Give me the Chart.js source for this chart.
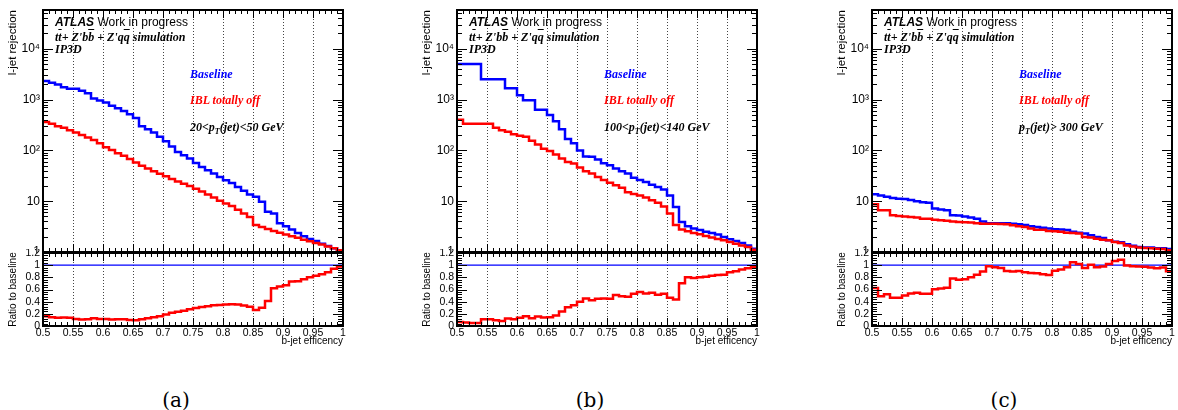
<!DOCTYPE html>
<html>
<head>
<meta charset="utf-8">
<script src="https://cdn.jsdelivr.net/npm/chart.js@4.4.0/dist/chart.umd.min.js"></script>
<style>
  html, body { margin: 0; padding: 0; background: #fff; }
  #page { position: relative; width: 1178px; height: 410px; overflow: hidden; }
  canvas { position: absolute; }
  .txt { position: absolute; white-space: nowrap; line-height: 1; color: #000; }
  .atlas { font: 12px "Liberation Sans", Arial, sans-serif; }
  .atlas b { font-style: italic; }
  .serif { font: italic bold 12px "Liberation Serif", "Times New Roman", serif; }
  .ol { text-decoration: overline; }
  .serif sub { font-size: 8px; vertical-align: -3px; }
  .cap { font: 20px "DejaVu Serif", "Liberation Serif", serif; width: 50px; text-align: center; }
</style>
</head>
<body>
<div id="page"></div>
<script>
// b-jet efficiency bin edges (0.01 wide bins)
const effEdges = [0.50, 0.51, 0.52, 0.53, 0.54, 0.55, 0.56, 0.57, 0.58, 0.59,
                  0.60, 0.61, 0.62, 0.63, 0.64, 0.65, 0.66, 0.67, 0.68, 0.69,
                  0.70, 0.71, 0.72, 0.73, 0.74, 0.75, 0.76, 0.77, 0.78, 0.79,
                  0.80, 0.81, 0.82, 0.83, 0.84, 0.85, 0.86, 0.87, 0.88, 0.89,
                  0.90, 0.91, 0.92, 0.93, 0.94, 0.95, 0.96, 0.97, 0.98, 0.99, 1.00];
const effTicks = [0.5, 0.55, 0.6, 0.65, 0.7, 0.75, 0.8, 0.85, 0.9, 0.95, 1];
const rejTicks = [1, 10, 100, 1000, 10000];
const rejTickLabels = ['1', '10', '10²', '10³', '10⁴'];
const ratioTicks = [0, 0.2, 0.4, 0.6, 0.8, 1, 1.2];

// (a) 20 < pT < 50 GeV
const baselineA = [2320, 2140, 1980, 1740, 1640, 1640, 1490, 1330, 1050, 957,
                   877, 757, 673, 598, 517, 433, 300, 260, 224, 185,
                   151, 119, 93, 80, 69, 56.5, 47, 40.6, 34.9, 30,
                   25.8, 22.9, 19.1, 16, 13.5, 12.2, 9.7, 6.2, 5.7, 3.7,
                   3.2, 2.76, 2.37, 2.04, 1.81, 1.65, 1.46, 1.31, 1.18, 1.08];
const iblOffA = [363, 333, 300, 279, 249, 224, 202, 180, 160, 138,
                 115, 102, 88, 78, 68, 58, 50, 44, 39, 34.5,
                 31, 27.5, 24.5, 22, 19.8, 17.5, 15.5, 13.5, 11.8, 10.2,
                 9, 8, 6.8, 5.7, 4.9, 3.4, 3.1, 2.85, 2.6, 2.4,
                 2.2, 2.05, 1.9, 1.75, 1.62, 1.5, 1.4, 1.28, 1.18, 1.08];
const ratioA = [0.16, 0.145, 0.134, 0.14, 0.134, 0.117, 0.106, 0.11, 0.128, 0.117,
                0.117, 0.106, 0.11, 0.11, 0.1, 0.095, 0.11, 0.128, 0.145, 0.16,
                0.19, 0.218, 0.235, 0.25, 0.274, 0.296, 0.313, 0.324, 0.34, 0.346,
                0.352, 0.357, 0.352, 0.335, 0.318, 0.263, 0.30, 0.413, 0.62, 0.648,
                0.67, 0.73, 0.737, 0.77, 0.8, 0.827, 0.85, 0.883, 0.94, 0.98];

// (b) 100 < pT < 140 GeV
const baselineB = [5000, 5000, 5000, 5000, 2500, 2500, 2500, 2500, 1670, 1670,
                   1220, 970, 970, 630, 630, 500, 374, 260, 167, 138,
                   100, 76, 75, 66, 56, 51, 44, 39, 35, 29,
                   26, 24, 21, 19, 17, 13, 7.7, 3.9, 3.2, 2.9,
                   2.7, 2.5, 2.37, 2.2, 1.98, 1.78, 1.65, 1.5, 1.35, 1.16];
const iblOffB = [400, 333, 333, 333, 333, 333, 280, 250, 234, 208,
                 194, 185, 155, 130, 108, 97, 83, 69, 59, 55,
                 46, 39, 35, 30, 26, 23, 20.5, 18.3, 15, 13.9,
                 13, 11.8, 10.4, 9.3, 7.9, 5.7, 3.4, 2.76, 2.56, 2.37,
                 2.23, 2.07, 1.92, 1.81, 1.7, 1.57, 1.46, 1.35, 1.25, 1.11];
const ratioB = [0.067, 0.056, 0.05, 0.05, 0.11, 0.11, 0.095, 0.084, 0.123, 0.11,
                0.134, 0.162, 0.128, 0.156, 0.14, 0.145, 0.173, 0.24, 0.307, 0.34,
                0.397, 0.453, 0.425, 0.447, 0.453, 0.447, 0.508, 0.49, 0.48, 0.53,
                0.56, 0.536, 0.547, 0.514, 0.53, 0.464, 0.436, 0.704, 0.80, 0.79,
                0.80, 0.81, 0.827, 0.838, 0.844, 0.883, 0.9, 0.927, 0.95, 0.972];

// (c) pT > 300 GeV
const baselineC = [13.7, 13, 12.2, 11.6, 11.2, 11, 10.5, 10, 9.5, 9.3,
                   7.2, 6.9, 6.6, 5.3, 5.2, 5.0, 4.8, 4.5, 4.0, 3.7,
                   3.7, 3.7, 3.7, 3.6, 3.5, 3.4, 3.2, 3.1, 3.0, 2.9,
                   2.8, 2.76, 2.7, 2.5, 2.4, 2.3, 2.13, 1.98, 1.89, 1.7,
                   1.6, 1.55, 1.42, 1.33, 1.25, 1.22, 1.22, 1.18, 1.18, 1.15];
const iblOffC = [8.7, 6.6, 6.6, 5.3, 5.1, 5.0, 4.9, 4.8, 4.5, 4.5,
                 4.3, 4.2, 4.1, 4.0, 3.9, 3.85, 3.8, 3.7, 3.6, 3.6,
                 3.6, 3.55, 3.5, 3.35, 3.2, 3.1, 2.9, 2.75, 2.75, 2.6,
                 2.56, 2.5, 2.4, 2.37, 2.3, 1.98, 1.92, 1.83, 1.75, 1.7,
                 1.58, 1.5, 1.35, 1.29, 1.22, 1.2, 1.18, 1.16, 1.15, 1.08];
const ratioC = [0.626, 0.49, 0.52, 0.464, 0.464, 0.5, 0.536, 0.547, 0.53, 0.53,
                0.603, 0.615, 0.63, 0.78, 0.76, 0.77, 0.8, 0.844, 0.894, 0.983,
                0.966, 0.955, 0.905, 0.894, 0.905, 0.883, 0.87, 0.866, 0.85, 0.838,
                0.91, 0.927, 0.966, 1.05, 1.02, 0.955, 1.005, 0.966, 0.978, 1.02,
                1.07, 1.09, 0.994, 0.983, 0.978, 0.972, 0.96, 0.95, 0.96, 0.9];

// baseline divided by itself
const ratioBaseline = [1, 1];

const ptLabels = ['20&lt;p<sub>T</sub>(jet)&lt;50 GeV',
                  '100&lt;p<sub>T</sub>(jet)&lt;140 GeV',
                  'p<sub>T</sub>(jet)&gt; 300 GeV'];
const captions = ['(a)', '(b)', '(c)'];

const BLUE = '#0000ff';
const RED = '#ff0000';
const SANS = '"Liberation Sans", Arial, sans-serif';

Chart.defaults.font.family = SANS;
Chart.defaults.color = '#000';

const page = document.getElementById('page');

function histPoints(values) {
    const pts = values.map((v, i) => ({ x: effEdges[i], y: v }));
    pts.push({ x: effEdges[values.length], y: values[values.length - 1] });
    return pts;
}

function histDataset(values, color) {
    return {
        data: histPoints(values),
        borderColor: color,
        borderWidth: 2.5,
        pointRadius: 0,
        stepped: true,
        fill: false
    };
}

function fixLeftAxis(scale) {
    scale.width = 43;
    scale.paddingTop = 0;
    scale.paddingBottom = 0;
}

function yTickList(y) {
    const list = [];
    if (y.type === 'logarithmic') {
        for (let d = 1; d <= 10000; d *= 10) {
            for (let m = 1; m <= 9; m++) {
                if (d * m <= y.max) list.push([d * m, m === 1]);
            }
        }
    } else {
        for (let k = 0; k <= 30; k++) list.push([k * 0.04, k % 5 === 0]);
    }
    return list;
}

// ROOT-like frame: dotted x grid, inward ticks on all four sides
const rootFrame = {
    id: 'rootFrame',
    beforeDatasetsDraw(chart) {
        const { ctx, chartArea: a, scales: { x } } = chart;
        ctx.save();
        ctx.strokeStyle = '#444';
        ctx.lineWidth = 1;
        ctx.setLineDash([1, 2]);
        effTicks.slice(1, -1).forEach((v) => {
            const px = Math.round(x.getPixelForValue(v)) + 0.5;
            ctx.beginPath();
            ctx.moveTo(px, a.top);
            ctx.lineTo(px, a.bottom);
            ctx.stroke();
        });
        ctx.restore();
    },
    afterDatasetsDraw(chart) {
        const { ctx, chartArea: a, scales: { x, y } } = chart;
        ctx.save();
        ctx.strokeStyle = '#000';
        ctx.lineWidth = 1;
        const tick = (px, py, dx, dy) => {
            ctx.beginPath();
            ctx.moveTo(px, py);
            ctx.lineTo(px + dx, py + dy);
            ctx.stroke();
        };
        effEdges.forEach((v, k) => {
            const px = Math.round(x.getPixelForValue(v)) + 0.5;
            const len = k % 5 === 0 ? 8 : 4;
            tick(px, a.bottom, 0, -len);
            tick(px, a.top, 0, len);
        });
        yTickList(y).forEach(([v, major]) => {
            if (v > y.max + 1e-9) return;
            const py = Math.round(y.getPixelForValue(v)) + 0.5;
            const len = major ? 10 : 5;
            tick(a.left, py, len, 0);
            tick(a.right, py, -len, 0);
        });
        ctx.lineWidth = 2;
        ctx.strokeRect(a.left, a.top, a.right - a.left, a.bottom - a.top);
        ctx.restore();
    }
};

function addCanvas(left, top, width, height) {
    const c = document.createElement('canvas');
    c.width = width;
    c.height = height;
    c.style.left = left + 'px';
    c.style.top = top + 'px';
    page.appendChild(c);
    return c;
}

function addText(cls, left, top, html, color) {
    const d = document.createElement('div');
    d.className = 'txt ' + cls;
    d.style.left = left + 'px';
    d.style.top = top + 'px';
    if (color) d.style.color = color;
    d.innerHTML = html;
    page.appendChild(d);
}

function makeRejectionChart(L, baseline, iblOff) {
    const canvas = addCanvas(L - 43, 0, 349, 253);
    return new Chart(canvas, {
        type: 'line',
        data: { datasets: [histDataset(iblOff, RED), histDataset(baseline, BLUE)] },
        options: {
            responsive: false,
            animation: false,
            events: [],
            layout: { padding: { top: 10, right: 6, bottom: 1, left: 0 } },
            plugins: { legend: { display: false }, tooltip: { enabled: false } },
            scales: {
                x: { type: 'linear', min: 0.5, max: 1, display: false },
                y: {
                    type: 'logarithmic',
                    min: 1,
                    max: 58000,
                    afterFit: fixLeftAxis,
                    afterBuildTicks: (s) => { s.ticks = rejTicks.map(v => ({ value: v })); },
                    ticks: {
                        font: { size: 12 },
                        padding: 3,
                        autoSkip: false,
                        callback: (v) => rejTickLabels[rejTicks.indexOf(v)]
                    },
                    grid: { display: false, drawTicks: false },
                    border: { display: false },
                    title: {
                        display: true,
                        text: 'l-jet rejection',
                        align: 'end',
                        font: { size: 11.5 },
                        padding: { top: 6, bottom: 0 }
                    }
                }
            }
        },
        plugins: [rootFrame]
    });
}

function makeRatioChart(L, ratio) {
    const canvas = addCanvas(L - 43, 249, 349, 101);
    return new Chart(canvas, {
        type: 'line',
        data: {
            datasets: [
                histDataset(ratio, RED),
                {
                    data: [{ x: 0.5, y: ratioBaseline[0] }, { x: 1, y: ratioBaseline[1] }],
                    borderColor: BLUE,
                    borderWidth: 1.2,
                    pointRadius: 0
                }
            ]
        },
        options: {
            responsive: false,
            animation: false,
            events: [],
            layout: { padding: { top: 4, right: 6, bottom: 0, left: 0 } },
            plugins: { legend: { display: false }, tooltip: { enabled: false } },
            scales: {
                x: {
                    type: 'linear',
                    min: 0.5,
                    max: 1,
                    afterFit: (s) => { s.height = 24; s.paddingLeft = 0; s.paddingRight = 0; },
                    afterBuildTicks: (s) => { s.ticks = effTicks.map(v => ({ value: v })); },
                    ticks: {
                        font: { size: 10.5 },
                        padding: 1,
                        maxRotation: 0,
                        autoSkip: false,
                        callback: (v) => String(+v.toFixed(2))
                    },
                    grid: { display: false, drawTicks: false },
                    border: { display: false },
                    title: {
                        display: true,
                        text: 'b-jet efficency',
                        align: 'end',
                        font: { size: 10 },
                        padding: { top: 0, bottom: 3 }
                    }
                },
                y: {
                    min: 0,
                    max: 1.2,
                    afterFit: fixLeftAxis,
                    afterBuildTicks: (s) => { s.ticks = ratioTicks.map(v => ({ value: v })); },
                    ticks: {
                        font: { size: 10.5 },
                        padding: 3,
                        autoSkip: false,
                        callback: (v) => String(+v.toFixed(1))
                    },
                    grid: { display: false, drawTicks: false },
                    border: { display: false },
                    title: {
                        display: true,
                        text: 'Ratio to baseline',
                        align: 'center',
                        font: { size: 10 },
                        padding: { top: 7, bottom: 0 }
                    }
                }
            }
        },
        plugins: [rootFrame]
    });
}

function makePanel(i, L, baseline, iblOff, ratio, captionX) {
    makeRejectionChart(L, baseline, iblOff);
    makeRatioChart(L, ratio);

    addText('atlas', L + 12, 14.5, '<b>ATLAS</b> Work in progress');
    addText('serif', L + 12, 30, 't<span class="ol">t</span>+ Z\'b<span class="ol">b</span> + Z\'q<span class="ol">q</span> simulation');
    addText('serif', L + 12, 42, 'IP3D');
    addText('serif', L + 147, 67, 'Baseline', BLUE);
    addText('serif', L + 147, 93, 'IBL totally off', RED);
    addText('serif', L + 147, 120, ptLabels[i]);
    addText('cap', captionX - 25, 388, captions[i]);
}

makePanel(0, 43, baselineA, iblOffA, ratioA, 176);
makePanel(1, 457, baselineB, iblOffB, ratioB, 590);
makePanel(2, 872, baselineC, iblOffC, ratioC, 1004);
</script>
</body>
</html>
